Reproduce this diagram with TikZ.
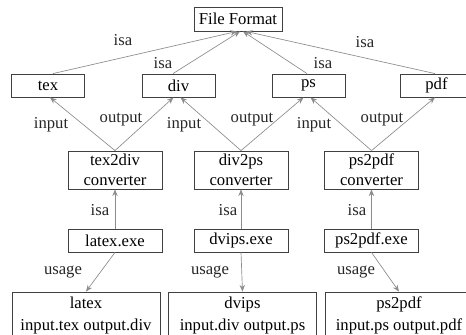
\documentclass[tikz,border=0pt]{standalone}
\usepackage{fontspec}
\setmainfont{Liberation Serif}
\usetikzlibrary{arrows.meta}

\tikzset{
    box/.style={draw=black!75, line width=0.5pt, inner sep=0pt, align=center, minimum height=13.8pt},
    conn/.style={draw=black!45, line width=0.4pt, -{Stealth[length=4pt,width=3.2pt]}},
    lbl/.style={inner sep=0pt, text=black!85}
}

\begin{document}
\begin{tikzpicture}[x=0.6pt, y=-0.6pt, font=\fontsize{10}{12}\selectfont]
    \useasboundingbox (0,0) rectangle (466,335);
    
    % formats
    \node[box, minimum width=52.8pt, minimum height=14.4pt] (ff) at (238,19) {File Format};
    \node[box, minimum width=43.8pt] (tex) at (48,85.5) {tex};
    \node[box, minimum width=43.8pt] (div) at (178.5,85.5) {div};
    \node[box, minimum width=43.8pt] (ps) at (308.5,85.5) {ps};
    \node[box, minimum width=43.8pt] (pdf) at (436.5,85.5) {pdf};
    
    % converters
    \node[box, minimum width=56.4pt, minimum height=22.8pt] (texdiv) at (115,170) {tex2div\\converter};
    \node[box, minimum width=56.4pt, minimum height=22.8pt] (divps) at (241,170) {div2ps\\converter};
    \node[box, minimum width=56.4pt, minimum height=22.8pt] (pspdf) at (371.5,170) {ps2pdf\\converter};
    
    % programs
    \node[box, minimum width=56.4pt] (latexexe) at (115,240.5) {latex.exe};
    \node[box, minimum width=56.4pt] (dvipsexe) at (241,240.5) {dvips.exe};
    \node[box, minimum width=56.4pt] (pspdfexe) at (371.5,240.5) {ps2pdf.exe};
    
    % usage
    \node[box, minimum width=88.8pt, minimum height=27.6pt, font=\fontsize{10}{13.2}\selectfont] (latexuse) at (86,315) {latex\\input.tex output.div};
    \node[box, minimum width=88.8pt, minimum height=27.6pt, font=\fontsize{10}{13.2}\selectfont] (dvipsuse) at (242.5,315) {dvips\\input.div output.ps};
    \node[box, minimum width=88.8pt, minimum height=27.6pt, font=\fontsize{10}{13.2}\selectfont] (pspdfuse) at (399,315) {ps2pdf\\input.ps output.pdf};
    
    \draw[conn] ([xshift=3pt]tex.north) -- ([xshift=-0.6pt]ff.south);
    \draw[conn] ([xshift=-3.3pt]div.north) -- ([xshift=1.2pt]ff.south);
    \draw[conn] ([xshift=-0.9pt]ps.north) -- ([xshift=3pt]ff.south);
    \draw[conn] ([xshift=-0.9pt]pdf.north) -- ([xshift=4.8pt]ff.south);
    
    \draw[conn] (texdiv.north) -- ([xshift=1.2pt]tex.south);
    \draw[conn] (texdiv.north) -- ([xshift=-3pt]div.south);
    \draw[conn] (divps.north) -- ([xshift=1.2pt]div.south);
    \draw[conn] (divps.north) -- ([xshift=-3pt]ps.south);
    \draw[conn] (pspdf.north) -- ([xshift=1.2pt]ps.south);
    \draw[conn] (pspdf.north) -- ([xshift=-0.9pt]pdf.south);
    
    \draw[conn] (latexexe) -- (texdiv);
    \draw[conn] (dvipsexe) -- (divps);
    \draw[conn] (pspdfexe) -- (pspdf);
    
    \draw[conn] (latexexe.south) -- (latexuse.north);
    \draw[conn] (dvipsexe.south) -- (dvipsuse.north);
    \draw[conn] (pspdfexe.south) -- (pspdfuse.north);
    
    \node[lbl] at (123,40) {isa};
    \node[lbl] at (163,63) {isa};
    \node[lbl] at (323,63) {isa};
    \node[lbl] at (365,42) {isa};
    
    \node[lbl] at (51,125) {input};
    \node[lbl] at (121,120) {output};
    \node[lbl] at (184,125) {input};
    \node[lbl] at (252,120) {output};
    \node[lbl] at (314,125) {input};
    \node[lbl] at (382,120) {output};
    
    \node[lbl] at (100,210) {isa};
    \node[lbl] at (228,210) {isa};
    \node[lbl] at (357,210) {isa};
    
    \node[lbl] at (63,272) {usage};
    \node[lbl] at (210,272) {usage};
    \node[lbl] at (356,272) {usage};
    
\end{tikzpicture}
\end{document}
